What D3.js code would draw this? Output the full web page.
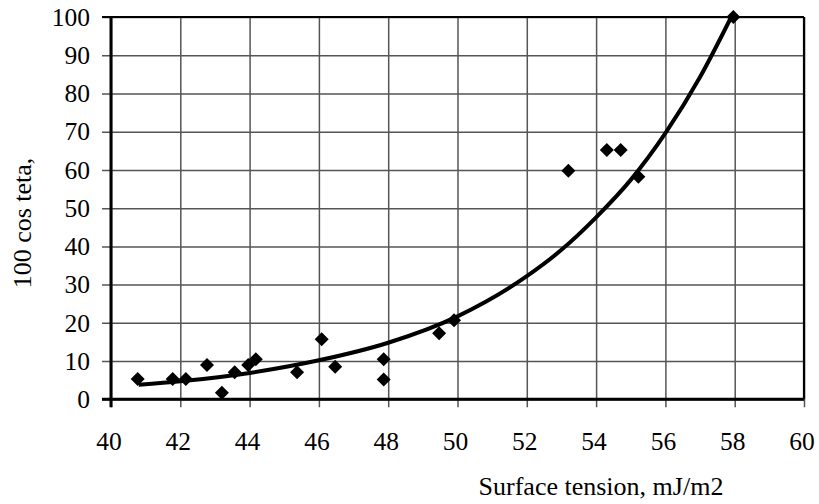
<!DOCTYPE html>
<html>
<head>
<meta charset="utf-8">
<script src="https://cdn.jsdelivr.net/npm/d3@7"></script>
<style>
body { margin: 0; background: #fff; }
text { font-family: "Liberation Serif", "Times New Roman", serif; fill: #000; }
</style>
</head>
<body>
<script>
var w = 819, h = 504;

// measured points (surface tension, 100 cos teta)
var tension = [40.77, 41.78, 42.16, 42.77, 43.20, 43.57, 43.96, 44.18, 45.37, 46.08, 46.47, 47.87, 47.87, 49.47, 49.90, 53.20, 54.31, 54.71, 55.22, 57.96];
var cosTeta = [5.3, 5.3, 5.3, 9.0, 1.7, 7.1, 9.0, 10.5, 7.1, 15.7, 8.5, 10.5, 5.2, 17.3, 20.7, 59.8, 65.2, 65.2, 58.2, 100];

// trend line
var trendX = [40.8, 42, 44, 46, 48, 50, 52, 53, 54, 55, 56, 57, 57.9];
var trendY = [3.8, 4.7, 6.9, 10.2, 14.8, 21.7, 32.2, 39.1, 47.6, 57.4, 69.6, 84.3, 100];

var xTicks = d3.range(40, 61, 2);
var yTicks = d3.range(0, 101, 10);

var pLeft = 111, pRight = 804, pTop = 17, pBottom = 399.3;

var x = d3.scaleLinear().domain([40, 60]).range([pLeft, pRight]);
var y = d3.scaleLinear().domain([0, 100]).range([pBottom, pTop]);

var svg = d3.select("body").append("svg")
	.attr("width", w)
	.attr("height", h);

// grid
var gx = svg.append("g")
	.attr("transform", "translate(0," + pBottom + ")")
	.call(d3.axisBottom(x).tickValues(xTicks).tickSize(8).tickFormat(""));
gx.selectAll(".tick line")
	.attr("y1", -(pBottom - pTop))
	.attr("stroke", "#555")
	.attr("stroke-width", 1.5);
gx.select(".domain").remove();

var gy = svg.append("g")
	.attr("transform", "translate(" + pLeft + ",0)")
	.call(d3.axisLeft(y).tickValues(yTicks).tickSize(9).tickFormat(""));
gy.selectAll(".tick line")
	.attr("x1", pRight - pLeft)
	.attr("stroke", "#555")
	.attr("stroke-width", 1.5);
gy.select(".domain").remove();

// frame
svg.append("line").attr("x1", pLeft - 9).attr("x2", pRight).attr("y1", pTop).attr("y2", pTop)
	.attr("stroke", "#000").attr("stroke-width", 2.2);
svg.append("line").attr("x1", pRight).attr("x2", pRight).attr("y1", pTop).attr("y2", pBottom)
	.attr("stroke", "#000").attr("stroke-width", 2.2);
svg.append("line").attr("x1", pLeft).attr("x2", pLeft).attr("y1", pTop - 1).attr("y2", pBottom + 8)
	.attr("stroke", "#000").attr("stroke-width", 3);
svg.append("line").attr("x1", pLeft - 9).attr("x2", pRight).attr("y1", pBottom).attr("y2", pBottom)
	.attr("stroke", "#000").attr("stroke-width", 3);

// tick labels
svg.selectAll(".xl")
	.data(xTicks)
	.enter()
	.append("text")
	.attr("x", function(d) { return x(d) - 2; })
	.attr("y", 450)
	.attr("text-anchor", "middle")
	.style("font-size", "25.5px")
	.text(function(d) { return d; });

svg.selectAll(".yl")
	.data(yTicks)
	.enter()
	.append("text")
	.attr("x", 90)
	.attr("y", function(d) { return y(d); })
	.attr("dy", "0.34em")
	.attr("text-anchor", "end")
	.style("font-size", "25.5px")
	.text(function(d) { return d; });

// titles
svg.append("text")
	.attr("x", 601)
	.attr("y", 495)
	.attr("text-anchor", "middle")
	.style("font-size", "26px")
	.text("Surface tension, mJ/m2");

svg.append("text")
	.attr("transform", "translate(31,223) rotate(-90)")
	.attr("text-anchor", "middle")
	.style("font-size", "26px")
	.text("100 cos teta,");

// trend line
var line = d3.line()
	.x(function(d) { return x(d[0]); })
	.y(function(d) { return y(d[1]); })
	.curve(d3.curveMonotoneX);

svg.append("path")
	.datum(d3.zip(trendX, trendY))
	.attr("d", line)
	.attr("fill", "none")
	.attr("stroke", "#000")
	.attr("stroke-width", 4);

// points
var diamond = d3.symbol().type(d3.symbolSquare).size(98);
svg.selectAll(".pt")
	.data(d3.zip(tension, cosTeta))
	.enter()
	.append("path")
	.attr("d", diamond)
	.attr("transform", function(d) {
		return "translate(" + x(d[0]) + "," + y(d[1]) + ") rotate(45)";
	})
	.attr("fill", "#000");
</script>
</body>
</html>
